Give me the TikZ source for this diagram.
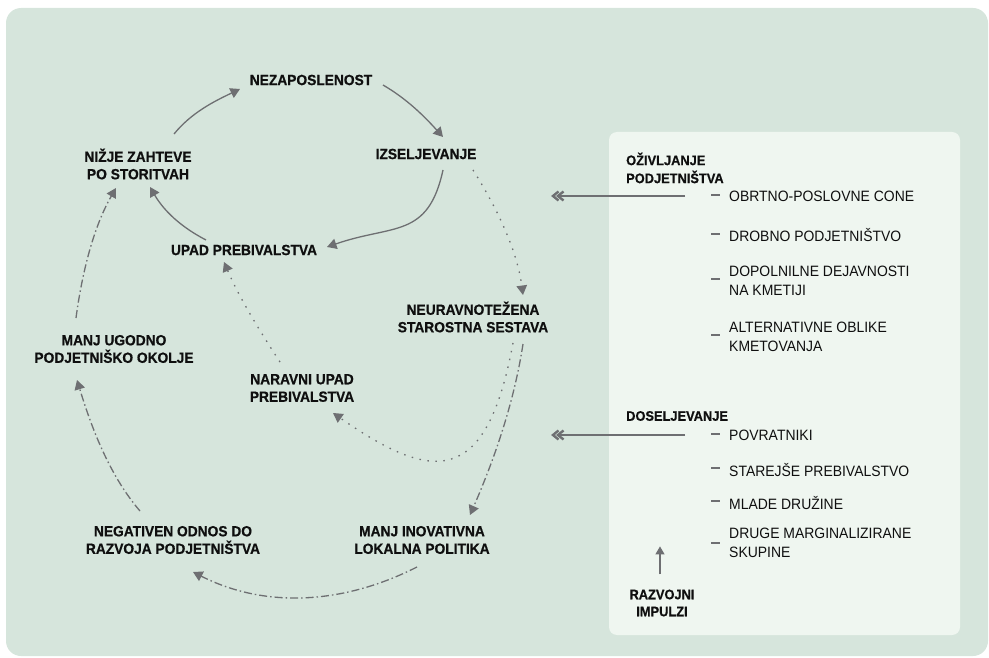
\documentclass[tikz,border=0pt]{standalone}
\usepackage{fontspec}
\setmainfont{Liberation Sans}[FakeStretch=0.93, BoldFeatures={FakeBold=0.6}]
\usetikzlibrary{arrows.meta}
\definecolor{bgout}{RGB}{214,229,220}
\definecolor{bgin}{RGB}{239,246,240}
\definecolor{ln}{RGB}{110,111,114}
\definecolor{txt}{RGB}{15,15,15}
\tikzset{
  lab/.style={font=\bfseries\fontsize{14.8}{17.5}\selectfont, align=center, text=txt, inner sep=0pt},
  hdr/.style={font=\bfseries\fontsize{13.8}{18}\selectfont, align=left, text=txt, inner sep=0pt, anchor=west},
  hdrc/.style={font=\bfseries\fontsize{13.8}{17}\selectfont, align=center, text=txt, inner sep=0pt},
  item/.style={font=\fontsize{15}{18.7}\selectfont, align=left, text=txt, inner sep=0pt, anchor=west},
  conn/.style={draw=ln, line width=1.3pt, -{Triangle[length=9.5pt,width=10.5pt]}},
  dotline/.style={conn, dash pattern=on 1.5pt off 6.5pt},
  dashdotline/.style={conn, dash pattern=on 8pt off 3pt on 1.5pt off 3pt},
  dashmark/.style={draw=ln, line width=1.1pt},
  bigline/.style={draw=ln, line width=2.8pt},
  chev/.style={draw=ln, line width=2.4pt, line join=miter},
  smallarrow/.style={draw=ln, line width=1.3pt, -{Triangle[length=8pt,width=9pt]}},
}
\begin{document}
\begin{tikzpicture}[x=1pt,y=-1pt]
\useasboundingbox (0,0) rectangle (989,658);
\fill[bgout, rounded corners=15pt] (6,8) rectangle (988,656);
\fill[bgin, rounded corners=8pt] (609,132) rectangle (960,635);

% cycle labels
\node[lab] (nez) at (311,80) {NEZAPOSLENOST};
\node[lab] (izs) at (426,154) {IZSELJEVANJE};
\node[lab] (niz) at (138,164) {NIŽJE ZAHTEVE\\PO STORITVAH};
\node[lab] (upad) at (244,250) {UPAD PREBIVALSTVA};
\node[lab] (neu) at (473,317) {NEURAVNOTEŽENA\\STAROSTNA SESTAVA};
\node[lab] (mug) at (114,349) {MANJ UGODNO\\PODJETNIŠKO OKOLJE};
\node[lab] (nar) at (302,388) {NARAVNI UPAD\\PREBIVALSTVA};
\node[lab] (neg) at (173,540) {NEGATIVEN ODNOS DO\\RAZVOJA PODJETNIŠTVA};
\node[lab] (mip) at (422,540) {MANJ INOVATIVNA\\LOKALNA POLITIKA};

% solid loop
\draw[conn] ([shift={(36,-30)}]niz.center) .. controls +(18,-22) and +(-25,12) .. ([shift={(-71,9)}]nez.center);
\draw[conn] ([shift={(72,5)}]nez.center) .. controls +(24,14) and +(-19,-21) .. ([shift={(17,-17)}]izs.center);
\draw[conn] ([shift={(17,16)}]izs.center) .. controls +(-15,69) and +(66,-23) .. ([shift={(83,-3)}]upad.center);
\draw[conn] ([shift={(-38,-10)}]upad.center) .. controls +(-25,-13) and +(14,24) .. ([shift={(12,23)}]niz.center);

% dotted loop
\draw[dotline] ([shift={(47,16)}]izs.center) .. controls +(24,38) and +(-6,-45) .. ([shift={(50,-22)}]neu.center);
\draw[dotline] ([shift={(40,26)}]neu.center) .. controls +(-27,147) and +(98,68) .. ([shift={(31,25)}]nar.center);
\draw[dotline] ([shift={(-22,-26)}]nar.center) .. controls +(-21,-32) and +(15,35) .. ([shift={(-20,12)}]upad.center);

% dash-dot loop
\draw[dashdotline] ([shift={(50,27)}]neu.center) .. controls +(-9,59) and +(24,-55) .. ([shift={(48,-25)}]mip.center);
\draw[dashdotline] ([shift={(-5,27)}]mip.center) .. controls +(-73,37) and +(73,37) .. ([shift={(20,32)}]neg.center);
\draw[dashdotline] ([shift={(-33,-29)}]neg.center) .. controls +(-31,-36) and +(14,46) .. ([shift={(-37,31)}]mug.center);
\draw[dashdotline] ([shift={(-38,-31)}]mug.center) .. controls +(6,-45) and +(-22.5,39) .. ([shift={(-22,24)}]niz.center);

% right panel
\node[hdr] (ozi) at (626,168) {OŽIVLJANJE\\PODJETNIŠTVA};
\node[hdr] (dos) at (626,416) {DOSELJEVANJE};
\node[hdrc] (raz) at (662,603) {RAZVOJNI\\IMPULZI};

\node[item] (i1) at (729,196) {OBRTNO-POSLOVNE CONE};
\node[item] (i2) at (729,235) {DROBNO PODJETNIŠTVO};
\node[item] (i3) at (729,281) {DOPOLNILNE DEJAVNOSTI\\NA KMETIJI};
\node[item] (i4) at (729,337) {ALTERNATIVNE OBLIKE\\KMETOVANJA};
\node[item] (i5) at (729,435) {POVRATNIKI};
\node[item] (i6) at (729,470) {STAREJŠE PREBIVALSTVO};
\node[item] (i7) at (729,503) {MLADE DRUŽINE};
\node[item] (i8) at (729,543) {DRUGE MARGINALIZIRANE\\SKUPINE};

\foreach \n/\d in {i1/-1,i2/-1,i3/-2,i4/-2,i5/-1,i6/-2,i7/-2,i8/0}{
  \draw[dashmark] ([shift={(-18,\d)}]\n.west) -- ++(9,0);
}

% double-chevron arrows
\coordinate (t1) at (553,196);
\coordinate (t2) at (553,435);
\foreach \t in {t1,t2}{
  \draw[chev] ([shift={(5.5,-4.5)}]\t) -- (\t) -- ([shift={(5.5,4.5)}]\t);
  \draw[chev] ([shift={(10.5,-4.5)}]\t) -- ([shift={(5,0)}]\t) -- ([shift={(10.5,4.5)}]\t);
}
\draw[bigline] ([xshift=-44pt]i1.west) -- ([xshift=7pt]t1);
\draw[bigline] ([xshift=-44pt]i5.west) -- ([xshift=7pt]t2);
\draw[smallarrow] ([shift={(-2,-15)}]raz.north) -- ++(0,-28);
\end{tikzpicture}
\end{document}
